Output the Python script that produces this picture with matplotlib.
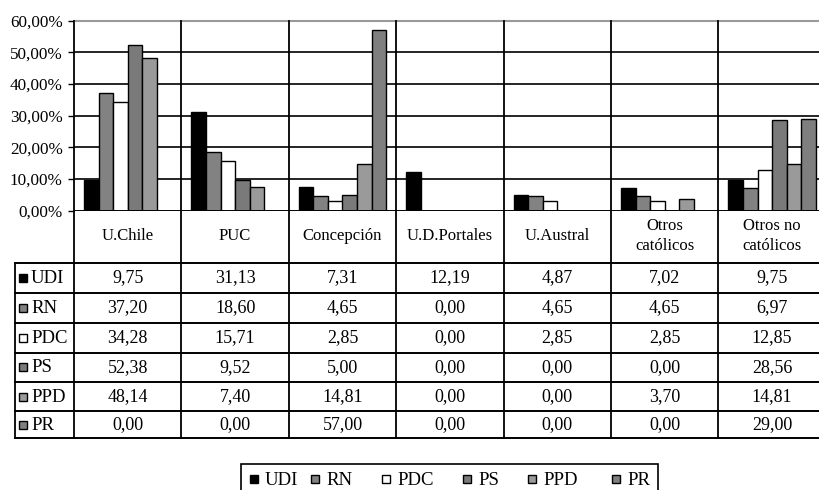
import matplotlib
matplotlib.use("Agg")
import matplotlib.pyplot as plt
from matplotlib.patches import Rectangle

plt.rcParams["font.family"] = ["Liberation Serif", "DejaVu Serif"]

# data ------------------------------------------------------------------
categories = ["U.Chile", "PUC", "Concepción", "U.D.Portales", "U.Austral",
              "Otros\ncatólicos", "Otros no\ncatólicos"]
parties = ["UDI", "RN", "PDC", "PS", "PPD", "PR"]
udi = [9.75, 31.13, 7.31, 12.19, 4.87, 7.02, 9.75]
rn = [37.20, 18.60, 4.65, 0.00, 4.65, 4.65, 6.97]
pdc = [34.28, 15.71, 2.85, 0.00, 2.85, 2.85, 12.85]
ps = [52.38, 9.52, 5.00, 0.00, 0.00, 0.00, 28.56]
ppd = [48.14, 7.40, 14.81, 0.00, 0.00, 3.70, 14.81]
pr = [0.00, 0.00, 57.00, 0.00, 0.00, 0.00, 29.00]
series = [udi, rn, pdc, ps, ppd, pr]
colors = ["#000000", "#828282", "#ffffff", "#7a7a7a", "#9a9a9a", "#7f7f7f"]

W, H = 820, 490
X0 = 74          # left of plot area (px)
CW = 107.4       # category width (px)
Y_TOP, Y_ZERO = 20.5, 210.5
ROWS = [263, 293, 323, 352.5, 382, 411, 438]
BLACK = "#000000"

fig = plt.figure(figsize=(W / 100, H / 100), dpi=100)

# chart -----------------------------------------------------------------
ax = fig.add_axes([X0 / W, (H - Y_ZERO) / H, len(categories) * CW / W,
                   (Y_ZERO - Y_TOP) / H])
ax.set_xlim(0, len(categories))
ax.set_ylim(0, 60)
gap = 0.093
bw = (1 - 2 * gap) / len(parties)
for j, (vals, c) in enumerate(zip(series, colors)):
    xs = [i + gap + (j + 0.5) * bw for i in range(len(categories))]
    ax.bar(xs, vals, width=bw, color=c, edgecolor=BLACK, linewidth=1.0,
           zorder=3)
ax.set_yticks(range(0, 61, 10))
ax.set_yticklabels([f"{v},00%" for v in range(0, 61, 10)], fontsize=12.3)
ax.set_xticks([])
ax.tick_params(axis="y", length=4, width=1, pad=4, color=BLACK)
for v in range(10, 60, 10):
    ax.axhline(v, color=BLACK, lw=1.2, zorder=1)
for s in ["right", "bottom", "left"]:
    ax.spines[s].set_visible(False)
ax.spines["top"].set_color("#999999")
ax.spines["top"].set_linewidth(1.5)
ax.axhline(0, color=BLACK, lw=1.4, zorder=4)

# data table (pixel overlay) -------------------------------------------
ov = fig.add_axes([0, 0, 1, 1], facecolor="none")
ov.set_xlim(0, W)
ov.set_ylim(H, 0)
ov.axis("off")

for i in range(len(categories) + 1):
    x = X0 + i * CW
    ov.plot([x, x], [Y_TOP + 1, ROWS[-1]], color=BLACK, lw=1.3)
ov.plot([15, 15], [ROWS[0], ROWS[-1]], color=BLACK, lw=1.3)
for y in ROWS:
    ov.plot([15, W + 10], [y, y], color=BLACK, lw=1.4)

for i, cat in enumerate(categories):
    cx = X0 + (i + 0.5) * CW
    ov.text(cx, (Y_ZERO + ROWS[0]) / 2 - 1, cat, ha="center", va="center",
            fontsize=12, linespacing=1.3)
    for r, vals in enumerate(series):
        cy = (ROWS[r] + ROWS[r + 1]) / 2
        ov.text(cx, cy, f"{vals[i]:.2f}".replace(".", ","), ha="center",
                va="center", fontsize=13)

for r, (name, c) in enumerate(zip(parties, colors)):
    cy = (ROWS[r] + ROWS[r + 1]) / 2
    ov.add_patch(Rectangle((19, cy - 4), 8, 8, fc=c, ec=BLACK, lw=1))
    ov.text(31, cy + 0.5, name, ha="left", va="center", fontsize=13.5)

# legend ---------------------------------------------------------------
ov.add_patch(Rectangle((241, 464), 417, 30, fc="white", ec=BLACK, lw=1.2))
sq_x = [250, 311, 382, 463, 528, 612]
for name, c, sx in zip(parties, colors, sq_x):
    ov.add_patch(Rectangle((sx, 475), 8, 8, fc=c, ec=BLACK, lw=1))
    ov.text(sx + 15, 480, name, ha="left", va="center", fontsize=13.5)

fig.savefig("out.png", dpi=100, facecolor="white")
